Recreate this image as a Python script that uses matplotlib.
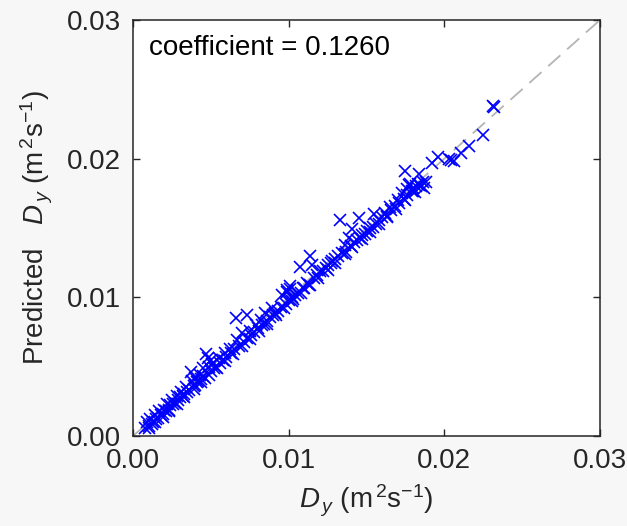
import numpy as np
import matplotlib
matplotlib.use("Agg")
import matplotlib.pyplot as plt

# measured vs predicted dispersion coefficient, values in 1e-3 m^2/s
measured = [0.8, 0.9, 1.0, 1.1, 1.2, 1.3, 1.4, 1.5, 1.6, 1.7, 1.8, 1.9, 2.0, 2.1,
            2.2, 2.3, 2.4, 2.5, 2.6, 2.7, 2.8, 2.9, 3.0, 3.1, 3.2, 3.3, 3.4, 3.5,
            3.6, 3.7, 3.8, 3.9, 4.0, 4.0, 4.1, 4.2, 4.3, 4.4, 4.5, 4.6, 4.7, 4.8,
            4.9, 5.0, 5.1, 5.2, 5.3, 5.5, 5.6, 5.8, 5.9, 6.0, 6.2, 6.3, 6.5, 6.6,
            6.7, 6.8, 7.0, 7.1, 7.3, 7.3, 7.5, 7.6, 7.8, 7.9, 8.0, 8.2, 8.3, 8.4,
            8.5, 8.6, 8.8, 8.9, 9.0, 9.1, 9.3, 9.5, 9.6, 9.8, 9.9, 10.0, 10.1,
            10.2, 10.3, 10.4, 10.7, 10.6, 10.9, 11.0, 11.2, 11.4, 11.5, 11.3,
            11.6, 11.8, 12.0, 12.2, 12.4, 12.5, 12.7, 12.8, 13.0, 13.3, 13.2,
            13.4, 13.6, 13.7, 13.9, 14.0, 14.1, 14.2, 14.4, 14.5, 14.6, 14.7,
            14.9, 15.0, 15.2, 15.4, 15.5, 15.6, 15.8, 16.0, 16.2, 16.3, 16.5,
            16.6, 16.8, 17.0, 17.1, 17.3, 17.5, 17.4, 17.6, 17.7, 17.9, 18.0,
            18.2, 18.3, 18.4, 18.5, 18.6, 18.7, 19.2, 19.6, 20.4, 20.6, 21.1,
            21.6, 22.5, 23.1, 23.2,
            # second batch, mostly just under the 1:1 line
            1.0, 1.4, 1.9, 2.3, 2.8, 3.3, 3.9, 4.4, 4.9, 5.4, 5.9, 6.4, 7.0,
            7.5, 8.1, 8.6, 9.2, 9.7, 10.2, 10.8, 11.4, 11.9, 12.5, 13.0, 13.6,
            14.1, 14.7, 15.2, 15.8, 16.3, 16.9, 17.5, 18.1, 18.8, 20.3, 4.5,
            5.0, 9.9, 10.1, 17.6, 17.8, 18.0, 18.4]
predicted = [0.6, 1.0, 0.7, 1.2, 0.9, 1.0, 1.5, 1.2, 1.3, 1.8, 1.5, 1.6, 1.9, 1.8,
             2.3, 1.9, 2.2, 2.6, 2.3, 2.4, 2.9, 2.6, 2.8, 3.2, 2.9, 3.0, 3.5, 3.2,
             3.3, 4.6, 4.0, 3.6, 4.2, 3.7, 3.9, 4.0, 4.4, 4.1, 4.3, 4.2, 5.9, 5.6,
             5.0, 4.7, 5.2, 4.9, 5.0, 5.6, 5.3, 5.5, 6.0, 5.7, 6.3, 6.0, 6.3, 8.5,
             6.9, 6.5, 7.4, 6.8, 8.7, 7.1, 7.6, 7.3, 7.5, 8.0, 7.8, 8.4, 8.0, 8.1,
             8.9, 8.3, 8.6, 9.2, 8.7, 8.9, 9.0, 9.3, 10.2, 9.5, 10.4, 9.8, 10.6,
             10.0, 9.9, 10.2, 12.2, 10.3, 10.7, 10.7, 11.0, 13.0, 12.3, 10.9,
             11.4, 11.6, 11.9, 11.9, 12.1, 12.3, 12.5, 12.6, 12.8, 15.6, 13.0,
             13.2, 13.8, 13.3, 14.3, 13.7, 14.9, 14.0, 14.1, 15.7, 14.3, 14.5,
             14.6, 14.8, 15.0, 15.1, 16.0, 15.3, 15.6, 15.8, 16.1, 15.9, 16.5,
             16.3, 16.6, 17.0, 16.8, 17.5, 19.1, 17.1, 17.4, 18.1, 17.7, 17.9,
             18.0, 18.2, 18.9, 18.0, 18.3, 17.9, 19.7, 20.1, 19.9, 19.8, 20.4,
             20.9, 21.7, 23.8, 23.7,
             0.6, 1.0, 1.4, 1.8, 2.3, 2.8, 3.4, 3.9, 4.4, 4.9, 5.4, 5.9, 6.5,
             7.0, 7.6, 8.1, 8.7, 9.2, 9.7, 10.3, 10.9, 11.4, 12.0, 12.5, 13.1,
             13.6, 14.2, 14.7, 15.3, 15.8, 16.4, 17.0, 17.6, 18.3, 20.0, 4.9,
             5.5, 10.5, 10.8, 17.8, 18.2, 17.7, 18.1]
coefficient = 0.1260
ticks = [0.0, 0.01, 0.02, 0.03]

x = np.array(measured) / 1000.0
y = np.array(predicted) / 1000.0

plt.rcParams["font.family"] = ["Liberation Sans", "DejaVu Sans"]
plt.rcParams["mathtext.fontset"] = "custom"
plt.rcParams["mathtext.rm"] = "Liberation Sans"
plt.rcParams["mathtext.it"] = "Liberation Sans:italic"

fig = plt.figure(figsize=(6.27, 5.26), dpi=100, facecolor="#f7f7f7")
ax = fig.add_axes([133 / 627, 1 - 436 / 526, 467 / 627, 416 / 526])
ax.set_facecolor("white")

ax.plot([0, 0.03], [0, 0.03], color="#b4b4b4", lw=1.3, dashes=(9, 5), zorder=1)
ax.plot(x, y, "x", color="#0000ff", ms=8.5, mew=1.2, zorder=2)

ax.set_xlim(0, 0.03)
ax.set_ylim(0, 0.03)
ax.set_xticks(ticks)
ax.set_yticks(ticks)
ax.set_xticklabels([f"{t:.2f}" for t in ticks])
ax.set_yticklabels([f"{t:.2f}" for t in ticks])
ax.tick_params(direction="in", length=5, width=1, top=True, right=True,
               labelsize=20, pad=9, colors="#262626")
for s in ax.spines.values():
    s.set_color("#262626")
    s.set_linewidth(1.1)

ax.text(0.035, 0.965, f"coefficient = {coefficient:.4f}", transform=ax.transAxes,
        ha="left", va="top", fontsize=20, color="black")

ax.set_xlabel(r"$\it{D}_{\,y}$ (m$^{\,2}$s$^{-1}$)", fontsize=20, color="#262626",
              labelpad=6)
ax.set_ylabel(r"Predicted   $\it{D}_{\,y}$ (m$^{\,2}$s$^{-1}$)", fontsize=20,
              color="#262626", labelpad=8)

fig.savefig("out.png", dpi=100, facecolor=fig.get_facecolor())
